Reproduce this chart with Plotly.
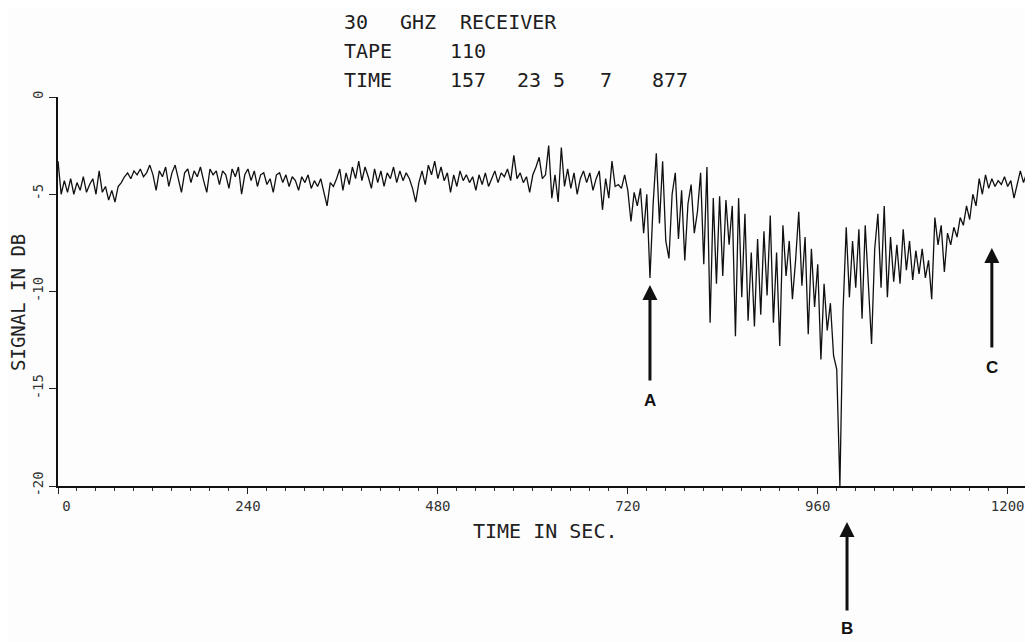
import plotly.graph_objects as go

# ---------------- data (signal level in dB, one reading every 4 s) ----------------
TIME_STEP_S = 4

CLEAR_AIR_1 = [-3.3, -5.0, -4.3, -4.9, -4.2, -5.0, -4.4, -4.8, -4.1, -4.9, -4.5,
               -4.2, -5.0, -3.8, -4.9, -4.6, -5.3, -4.8, -5.4,
               -4.6, -4.4, -4.1, -3.9, -4.2, -3.8, -4.0, -3.7, -4.1, -3.9, -3.5,
               -4.0, -4.8, -3.8, -4.1, -3.6, -4.6, -3.9, -3.5, -4.2, -4.9, -3.9,
               -3.7, -4.4, -3.8, -4.1, -3.6, -4.3, -4.9, -3.7, -4.0, -3.8]
CLEAR_AIR_2 = [-4.5, -3.8, -4.0, -4.7, -3.7, -4.1, -3.6, -5.0, -4.0, -3.7,
               -4.3, -3.8, -4.6, -4.0, -3.9, -4.5, -4.2, -4.9, -4.0, -3.9,
               -4.4, -4.0, -4.6, -4.1, -4.3, -4.8, -4.1, -4.4, -4.0, -4.7,
               -4.3, -4.6, -4.2, -4.9, -5.6, -4.4, -4.6, -4.2, -3.7, -4.8,
               -3.9, -4.5, -3.6, -4.2, -3.3, -4.3, -3.6, -4.1, -4.7, -3.7,
               -4.4, -3.8, -4.6, -3.9, -4.2, -3.6, -4.4, -3.8, -4.3, -3.9]
CLEAR_AIR_3 = [-4.2, -4.7, -5.4, -4.4, -3.8, -4.5, -3.5, -4.0, -3.3, -4.2,
               -3.6, -4.3, -3.9, -4.9, -4.0, -4.6, -3.8, -4.3, -4.0, -4.4,
               -4.1, -4.8, -4.0, -4.5, -3.9, -4.6, -4.2, -3.8, -4.4, -3.9,
               -4.1, -3.7, -4.3, -3.0, -4.2, -3.9, -4.4, -4.1, -4.9, -4.0,
               -3.6, -3.1, -4.2, -4.0, -2.5, -5.2, -4.0, -5.4, -2.6, -4.6,
               -3.7, -4.7, -3.9, -5.0, -4.2, -3.8, -4.4, -3.9, -4.8, -4.2]
FADE_1 = [-3.8, -5.8, -4.2, -5.2, -3.3, -4.6, -4.5, -4.7, -4.0, -4.8,
          -6.4, -4.9, -5.6, -4.7, -7.0, -5.0, -9.3, -5.5, -2.9, -6.5,
          -3.3, -7.4, -8.3, -5.0, -3.9, -7.3, -4.8, -8.4, -5.5, -4.5,
          -7.0, -5.9, -3.9, -8.6, -3.6, -11.6, -5.2, -9.6, -5.1, -9.2,
          -5.3, -7.6, -5.6, -12.3, -5.2, -10.3, -6.0, -11.5, -8.0, -11.8,
          -7.3, -11.2, -6.9, -10.2, -6.1, -11.6, -8.0, -12.8, -6.6, -9.2]
FADE_2 = [-7.4, -10.4, -8.4, -5.9, -9.7, -7.2, -12.2, -7.8, -10.8, -8.6,
          -13.5, -9.6, -12.0, -10.6, -13.3, -14.0, -20.0, -11.0, -6.7, -10.3,
          -7.4, -9.8, -6.8, -11.4, -6.6, -9.9, -12.7, -7.8, -6.0, -9.8,
          -5.6, -10.3, -7.2, -9.5, -7.6, -9.6, -6.8, -8.9, -7.4, -9.4,
          -7.9, -9.1, -7.8, -9.3, -8.4, -10.4, -6.2, -7.6, -6.6, -9.0,
          -7.0, -7.6, -6.7, -7.2, -6.2, -6.6, -5.6, -6.3, -5.0, -5.6]
RECOVERY = [-4.2, -5.0, -4.0, -4.7, -4.2, -4.6, -4.3, -4.5, -4.1, -4.6,
            -4.3, -5.2, -4.5, -3.8, -4.4, -3.9, -4.3, -3.8]

X_TICKS = [0, 240, 480, 720, 960, 1200]
X_TICK_TEXT = ["&nbsp;&nbsp;0", "240", "480", "720", "960", "1200"]
Y_TICKS = [0, -5, -10, -15, -20]
Y_TICK_TEXT = ["0", "-5", "-10", "-15", "-20"]

HEADER = [("30", 0), ("GHZ", 0), ("RECEIVER", 0), ("TAPE", 1), ("110", 1),
          ("TIME", 2), ("157", 2), ("23 5", 2), ("7", 2), ("877", 2)]

# event markers: (label, time s, arrow head dB, arrow tail dB, label dB)
EVENTS = [("A", 748, -9.67, -14.65, -15.6),
          ("C", 1180, -7.76, -12.96, -13.9)]
EVENT_B_TIME = 997

# ---------------- figure ----------------
values = CLEAR_AIR_1 + CLEAR_AIR_2 + CLEAR_AIR_3 + FADE_1 + FADE_2 + RECOVERY
times = [i * TIME_STEP_S for i in range(len(values))]

OFF = 8  # page body margin of the browser
W, H = 1033 - OFF, 642 - OFF
L, R, T, B = 58 - OFF, 0, 97 - OFF, 642 - 486
PW, PH = W - L - R, H - T - B


def px(xp):
    return (xp - OFF - L) / PW


def py(yp):
    return (H - B - (yp - OFF)) / PH


fig = go.Figure(go.Scatter(x=times, y=values, mode="lines",
                           line=dict(color="#101010", width=1.3),
                           hoverinfo="skip"))

ann = []
header_x = [342, 398, 458, 342, 448, 342, 448, 515, 598, 650]
header_y = [21.5, 51, 80]
mono = "DejaVu Sans Mono"
for (txt, row), xp in zip(HEADER, header_x):
    ann.append(dict(text=txt, xref="paper", yref="paper", x=px(xp), y=py(header_y[row]),
                    xanchor="left", yanchor="middle", showarrow=False,
                    font=dict(family=mono, size=20, color="#1e1e1e")))

ann.append(dict(text="TIME IN SEC.", xref="paper", yref="paper", x=px(545), y=py(531),
                xanchor="center", yanchor="middle", showarrow=False,
                font=dict(family=mono, size=20, color="#222")))
ann.append(dict(text="SIGNAL IN DB", xref="paper", yref="paper", x=px(18), y=py(303),
                xanchor="center", yanchor="middle", showarrow=False, textangle=-90,
                font=dict(family=mono, size=19, color="#222")))

lab_font = dict(family="Liberation Sans", size=17, color="#111")
for lab, t, head, tail, ly in EVENTS:
    ann.append(dict(x=t, y=head, ax=t, ay=tail, xref="x", yref="y", axref="x", ayref="y",
                    text="", showarrow=True, arrowhead=2, arrowsize=1, arrowwidth=3,
                    arrowcolor="#111"))
    ann.append(dict(x=t, y=ly, xref="x", yref="y", text="<b>%s</b>" % lab, showarrow=False,
                    xanchor="center", yanchor="middle", font=lab_font))

# event B lies below the time axis, so it is placed in paper space at its time position
xb = EVENT_B_TIME / 1232
ann.append(dict(x=xb, y=py(522), xref="paper", yref="paper", ax=0, ay=90,
                text="", showarrow=True, arrowhead=2, arrowsize=1, arrowwidth=3,
                arrowcolor="#111"))
ann.append(dict(x=xb, y=py(628), xref="paper", yref="paper", text="<b>B</b>",
                showarrow=False, xanchor="center", yanchor="middle", font=lab_font))

fig.update_layout(
    width=W, height=H, margin=dict(l=L, r=R, t=T, b=B),
    paper_bgcolor="#fdfdfd", plot_bgcolor="#fdfdfd", showlegend=False,
    annotations=ann,
    xaxis=dict(range=[0, 1232], tickvals=X_TICKS, ticktext=X_TICK_TEXT,
               ticks="outside", ticklen=6, tickwidth=1.2, tickcolor="#222",
               showline=True, linecolor="#111", linewidth=1.5,
               showgrid=False, zeroline=False,
               tickfont=dict(family=mono, size=14, color="#333"),
               minor=dict(dtick=24, ticks="outside", ticklen=3, tickwidth=1,
                          tickcolor="#333", showgrid=False)),
    yaxis=dict(range=[-20, 0], tickvals=Y_TICKS, ticktext=Y_TICK_TEXT, tickangle=-90,
               ticks="outside", ticklen=7, tickwidth=1.2, tickcolor="#222",
               showline=True, linecolor="#111", linewidth=2.2,
               showgrid=False, zeroline=False,
               tickfont=dict(family=mono, size=14, color="#333")),
)

fig.write_html("out.html")
